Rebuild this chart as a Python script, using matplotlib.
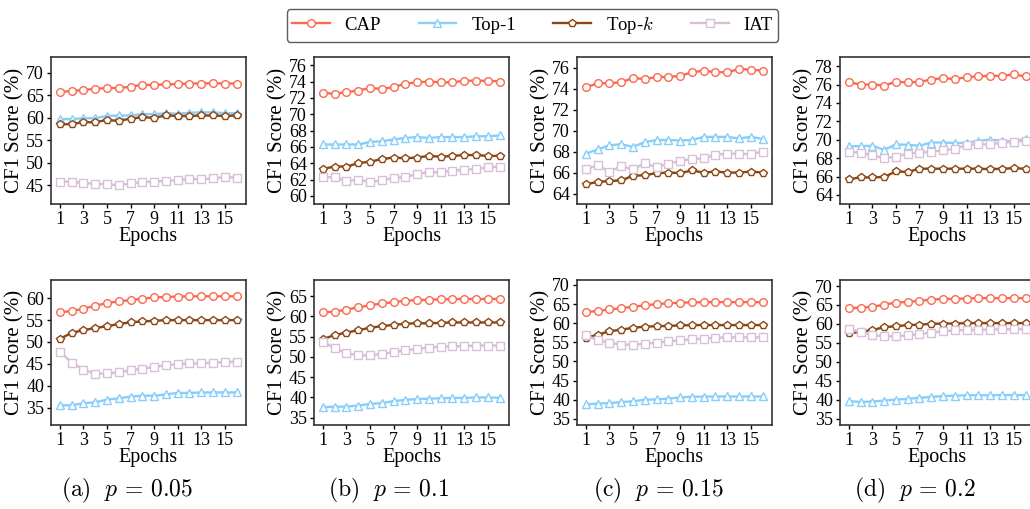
import numpy as np
import matplotlib.pyplot as plt

plt.rcParams['font.family'] = ['Liberation Serif', 'DejaVu Serif']
plt.rcParams['mathtext.fontset'] = 'cm'

epochs = np.arange(1, 17)
methods = ["CAP", "Top-1", "Top-$k$", "IAT"]
captions = [r"$\mathrm{(a)}\ \ p\, =\, 0.05$", r"$\mathrm{(b)}\ \ p\, =\, 0.1$",
            r"$\mathrm{(c)}\ \ p\, =\, 0.15$", r"$\mathrm{(d)}\ \ p\, =\, 0.2$"]

# ---- top row ----
cap_a1 = [65.8, 65.9, 66.2, 66.4, 66.6, 66.6, 66.9, 67.3, 67.3, 67.4, 67.5, 67.6, 67.6, 67.7, 67.6, 67.6]
top1_a1 = [59.7, 59.7, 59.9, 59.9, 60.4, 60.5, 60.5, 60.8, 60.8, 61.0, 60.9, 61.1, 61.2, 61.2, 61.0, 61.0]
topk_a1 = [58.5, 58.6, 59.0, 59.0, 59.5, 59.3, 59.8, 60.1, 60.0, 60.5, 60.4, 60.4, 60.5, 60.5, 60.4, 60.5]
iat_a1 = [45.8, 45.8, 45.5, 45.3, 45.2, 45.0, 45.4, 45.7, 45.8, 46.0, 46.1, 46.4, 46.3, 46.5, 46.8, 46.7]

cap_b1 = [72.6, 72.5, 72.7, 72.9, 73.2, 73.1, 73.3, 73.75, 73.9, 74.0, 73.9, 73.9, 74.1, 74.1, 74.1, 74.0]
top1_b1 = [66.3, 66.3, 66.3, 66.3, 66.6, 66.7, 66.9, 67.1, 67.2, 67.1, 67.2, 67.2, 67.2, 67.3, 67.3, 67.4]
topk_b1 = [63.3, 63.6, 63.6, 64.0, 64.2, 64.5, 64.7, 64.6, 64.7, 64.9, 64.8, 64.9, 65.0, 65.0, 64.9, 64.9]
iat_b1 = [62.3, 62.3, 61.8, 62.0, 61.7, 61.9, 62.2, 62.3, 62.7, 62.9, 62.9, 63.1, 63.2, 63.3, 63.5, 63.6]

cap_c1 = [74.1, 74.5, 74.5, 74.6, 75.0, 74.9, 75.1, 75.1, 75.2, 75.55, 75.7, 75.55, 75.55, 75.85, 75.8, 75.7]
top1_c1 = [67.8, 68.2, 68.6, 68.7, 68.45, 68.9, 69.1, 69.1, 69.05, 69.1, 69.4, 69.4, 69.4, 69.25, 69.4, 69.2]
topk_c1 = [64.9, 65.1, 65.2, 65.25, 65.7, 65.75, 65.95, 66.0, 65.95, 66.2, 66.0, 66.1, 66.0, 66.0, 66.1, 66.0]
iat_c1 = [66.3, 66.7, 66.1, 66.6, 66.3, 66.9, 66.5, 66.85, 67.1, 67.3, 67.35, 67.7, 67.8, 67.8, 67.75, 68.0]

cap_d1 = [76.25, 76.0, 76.0, 75.9, 76.3, 76.25, 76.3, 76.55, 76.7, 76.6, 76.8, 76.9, 76.95, 76.95, 77.1, 76.9]
top1_d1 = [69.3, 69.3, 69.35, 68.9, 69.5, 69.45, 69.35, 69.7, 69.7, 69.65, 69.65, 69.9, 70.0, 69.9, 69.8, 70.1]
topk_d1 = [65.7, 65.9, 65.9, 65.95, 66.55, 66.5, 66.85, 66.85, 66.85, 66.85, 66.85, 66.85, 66.8, 66.85, 66.9, 66.85]
iat_d1 = [68.7, 68.6, 68.3, 68.0, 68.15, 68.5, 68.6, 68.7, 68.85, 69.0, 69.45, 69.5, 69.5, 69.65, 69.8, 69.9]

# ---- bottom row ----
cap_a2 = [56.8, 57.1, 57.6, 58.3, 58.9, 59.3, 59.6, 59.9, 60.2, 60.3, 60.4, 60.45, 60.45, 60.45, 60.45, 60.45]
top1_a2 = [35.5, 35.5, 36.0, 36.2, 36.8, 37.1, 37.5, 37.7, 37.7, 38.0, 38.35, 38.35, 38.45, 38.45, 38.45, 38.45]
topk_a2 = [50.7, 52.1, 52.7, 53.2, 53.6, 54.1, 54.5, 54.7, 54.85, 55.0, 55.0, 55.0, 55.0, 55.0, 55.0, 55.0]
iat_a2 = [47.8, 45.3, 43.7, 42.7, 42.8, 43.1, 43.5, 43.9, 44.3, 44.7, 44.9, 45.1, 45.1, 45.3, 45.4, 45.5]

cap_b2 = [61.0, 61.15, 61.7, 62.25, 62.75, 63.2, 63.5, 63.9, 64.0, 64.1, 64.2, 64.3, 64.3, 64.3, 64.3, 64.3]
top1_b2 = [37.6, 37.7, 37.75, 38.0, 38.4, 38.6, 39.1, 39.4, 39.6, 39.7, 39.8, 39.9, 39.9, 40.0, 40.0, 39.9]
topk_b2 = [54.4, 55.4, 56.0, 56.6, 57.2, 57.6, 57.9, 58.2, 58.3, 58.3, 58.4, 58.5, 58.5, 58.5, 58.5, 58.5]
iat_b2 = [53.8, 52.1, 50.95, 50.4, 50.4, 50.7, 51.2, 51.6, 52.0, 52.3, 52.55, 52.6, 52.7, 52.8, 52.8, 52.8]

cap_c2 = [62.9, 63.2, 63.6, 63.9, 64.3, 64.65, 65.0, 65.2, 65.35, 65.45, 65.5, 65.5, 65.5, 65.5, 65.5, 65.5]
top1_c2 = [38.8, 39.0, 39.1, 39.4, 39.6, 40.0, 40.1, 40.3, 40.6, 40.8, 40.8, 40.85, 40.85, 40.85, 40.85, 40.85]
topk_c2 = [56.2, 57.0, 57.9, 58.3, 58.8, 59.1, 59.2, 59.3, 59.4, 59.5, 59.5, 59.5, 59.5, 59.5, 59.5, 59.5]
iat_c2 = [56.8, 55.6, 54.9, 54.4, 54.4, 54.6, 54.9, 55.3, 55.5, 55.8, 56.0, 56.2, 56.3, 56.3, 56.3, 56.3]

cap_d2 = [64.1, 64.3, 64.5, 65.1, 65.6, 65.8, 66.1, 66.4, 66.6, 66.6, 66.7, 66.8, 66.8, 66.8, 66.8, 66.8]
top1_d2 = [39.6, 39.4, 39.5, 39.75, 40.0, 40.2, 40.5, 40.7, 40.95, 41.05, 41.15, 41.15, 41.15, 41.2, 41.2, 41.2]
topk_d2 = [57.5, 57.9, 58.4, 59.1, 59.4, 59.65, 59.8, 60.0, 60.1, 60.1, 60.2, 60.2, 60.2, 60.2, 60.2, 60.2]
iat_d2 = [58.7, 57.9, 57.1, 56.7, 56.7, 57.0, 57.3, 57.7, 58.0, 58.3, 58.4, 58.4, 58.5, 58.6, 58.6, 58.6]

top_data = [[cap_a1, top1_a1, topk_a1, iat_a1], [cap_b1, top1_b1, topk_b1, iat_b1],
            [cap_c1, top1_c1, topk_c1, iat_c1], [cap_d1, top1_d1, topk_d1, iat_d1]]
bot_data = [[cap_a2, top1_a2, topk_a2, iat_a2], [cap_b2, top1_b2, topk_b2, iat_b2],
            [cap_c2, top1_c2, topk_c2, iat_c2], [cap_d2, top1_d2, topk_d2, iat_d2]]

top_ylim = [(40.8, 73.5), (59, 77), (63, 77), (63, 79)]
top_yticks = [np.arange(45, 71, 5), np.arange(60, 77, 2), np.arange(64, 77, 2), np.arange(64, 79, 2)]
bot_ylim = [(31, 64.2), (33.2, 69), (33.4, 71.3), (33.3, 71.6)]
bot_yticks = [np.arange(35, 61, 5), np.arange(35, 66, 5), np.arange(35, 71, 5), np.arange(35, 71, 5)]

colors = ["#FA6A4F", "#87CEFA", "#8B4513", "#D8BFD8"]
markers = ["o", "^", "p", "s"]

fig = plt.figure(figsize=(10.3, 5.09), dpi=100)

lefts = [0.0495, 0.3049, 0.5602, 0.8155]
w = 0.1893
rows = [(0.599, 0.289, top_data, top_ylim, top_yticks),
        (0.165, 0.285, bot_data, bot_ylim, bot_yticks)]

handles = None
for bottom, h, data, ylims, yticks in rows:
    for i in range(4):
        ax = fig.add_axes([lefts[i], bottom, w, h])
        hs = []
        for j in range(4):
            l, = ax.plot(epochs, data[i][j], color=colors[j], marker=markers[j],
                         markersize=5.5, markerfacecolor="white", markeredgewidth=1.0,
                         linewidth=1.7, label=methods[j])
            hs.append(l)
        handles = hs
        ax.set_xlim(0.25, 16.8)
        ax.set_ylim(*ylims[i])
        ax.set_xticks(np.arange(1, 16, 2))
        ax.set_yticks(yticks[i])
        ax.tick_params(labelsize=13, length=3, width=1, pad=2)
        ax.set_xlabel("Epochs", fontsize=14.5, labelpad=-1)
        ax.set_ylabel("CF1 Score (%)", fontsize=15, labelpad=1)
        for s in ax.spines.values():
            s.set_color("#333333")
            s.set_linewidth(1.2)

cap_x = [127, 388, 658, 915]
for i in range(4):
    fig.text(cap_x[i] / 1030, 1 - 490 / 509, captions[i], ha="center", va="center", fontsize=17)

leg = fig.legend(handles=handles, labels=methods, loc="upper center", ncol=4,
                 bbox_to_anchor=(0.517, 1.0), fontsize=13.5, frameon=True,
                 handlelength=2.0, handletextpad=0.8, columnspacing=2.0, borderpad=0.3,
                 edgecolor="#333333", fancybox=True)
leg.get_frame().set_linewidth(1.0)

fig.savefig("out.png", dpi=100)
